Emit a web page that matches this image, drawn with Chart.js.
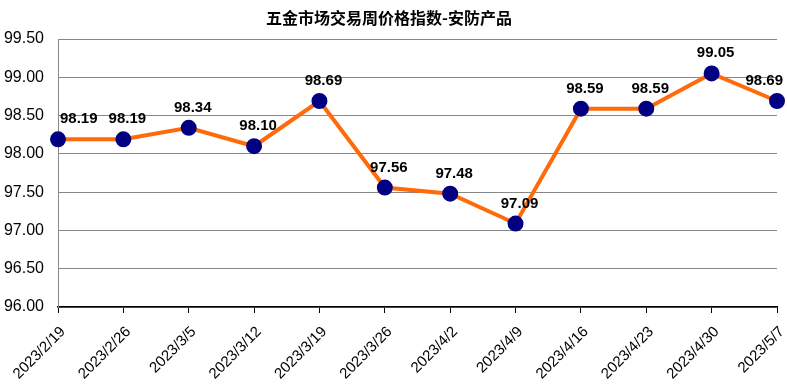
<!DOCTYPE html>
<html>
<head>
<meta charset="utf-8">
<script src="https://cdn.jsdelivr.net/npm/chart.js@4"></script>
<style>
  html, body { margin: 0; padding: 0; background: #fff; }
  #wrap { width: 787px; height: 389px; position: relative; }
</style>
</head>
<body>
<div id="wrap"><canvas id="myChart"></canvas></div>
<script>
const chartTitle = '五金市场交易周价格指数-安防产品';
const weeks = ['2023/2/19', '2023/2/26', '2023/3/5', '2023/3/12', '2023/3/19', '2023/3/26',
               '2023/4/2', '2023/4/9', '2023/4/16', '2023/4/23', '2023/4/30', '2023/5/7'];
const priceIndex = [98.19, 98.19, 98.34, 98.10, 98.69, 97.56, 97.48, 97.09, 98.59, 98.59, 99.05, 98.69];
const yMin = 96, yMax = 99.5, yStep = 0.5;

// title + value labels drawn by hand
const labelPlugin = {
  id: 'labels',
  afterDatasetsDraw(chart) {
    const ctx = chart.ctx;
    ctx.save();
    ctx.fillStyle = '#000';
    ctx.font = 'bold 16px "Noto Sans CJK SC"';
    ctx.textAlign = 'center';
    ctx.textBaseline = 'middle';
    ctx.fillText(chartTitle, 389, 18);

    ctx.font = 'bold 15px "Liberation Sans", Arial';
    ctx.textBaseline = 'alphabetic';
    const meta = chart.getDatasetMeta(0);
    meta.data.forEach((pt, i) => {
      const txt = priceIndex[i].toFixed(2);
      const w = ctx.measureText(txt).width;
      let x = pt.x + 4;
      if (x - w / 2 < chart.chartArea.left + 2) x = chart.chartArea.left + 2 + w / 2;
      if (x + w / 2 > chart.width - 4) x = chart.width - 4 - w / 2;
      ctx.fillText(txt, x, pt.y - 16);
    });
    ctx.restore();
  }
};

const ctx = document.getElementById('myChart').getContext('2d');
new Chart(ctx, {
  type: 'line',
  data: {
    labels: weeks,
    datasets: [{
      data: priceIndex,
      borderColor: '#FF6A0A',
      borderWidth: 4,
      pointBackgroundColor: '#000080',
      pointBorderColor: '#000080',
      pointRadius: 6,
      pointHoverRadius: 6,
      tension: 0,
      clip: false
    }]
  },
  options: {
    responsive: true,
    maintainAspectRatio: false,
    animation: false,
    layout: { padding: { top: 39, right: 10, left: 0, bottom: 0 } },
    plugins: {
      legend: { display: false },
      title: { display: false },
      tooltip: { enabled: false }
    },
    scales: {
      x: {
        offset: false,
        grid: { drawOnChartArea: false, color: '#000', tickLength: 6, tickColor: '#000' },
        border: { color: '#000', width: 1.5 },
        ticks: {
          color: '#000',
          font: { family: '"Liberation Sans", Arial', size: 15 },
          maxRotation: 45,
          minRotation: 45,
          autoSkip: false,
          padding: 10,
          labelOffset: 5
        },
        afterFit(scale) {
          scale.height = 82;
          scale.paddingLeft = 0;
          scale.paddingRight = 0;
        }
      },
      y: {
        min: yMin,
        max: yMax,
        grid: { color: '#888', drawTicks: false, lineWidth: 1 },
        border: { color: '#888' },
        ticks: {
          stepSize: yStep,
          color: '#000',
          padding: 14,
          font: { family: '"Liberation Sans", Arial', size: 16 },
          callback: v => v.toFixed(2)
        },
        afterFit(scale) { scale.width = 58; }
      }
    }
  },
  plugins: [labelPlugin]
});
</script>
</body>
</html>
